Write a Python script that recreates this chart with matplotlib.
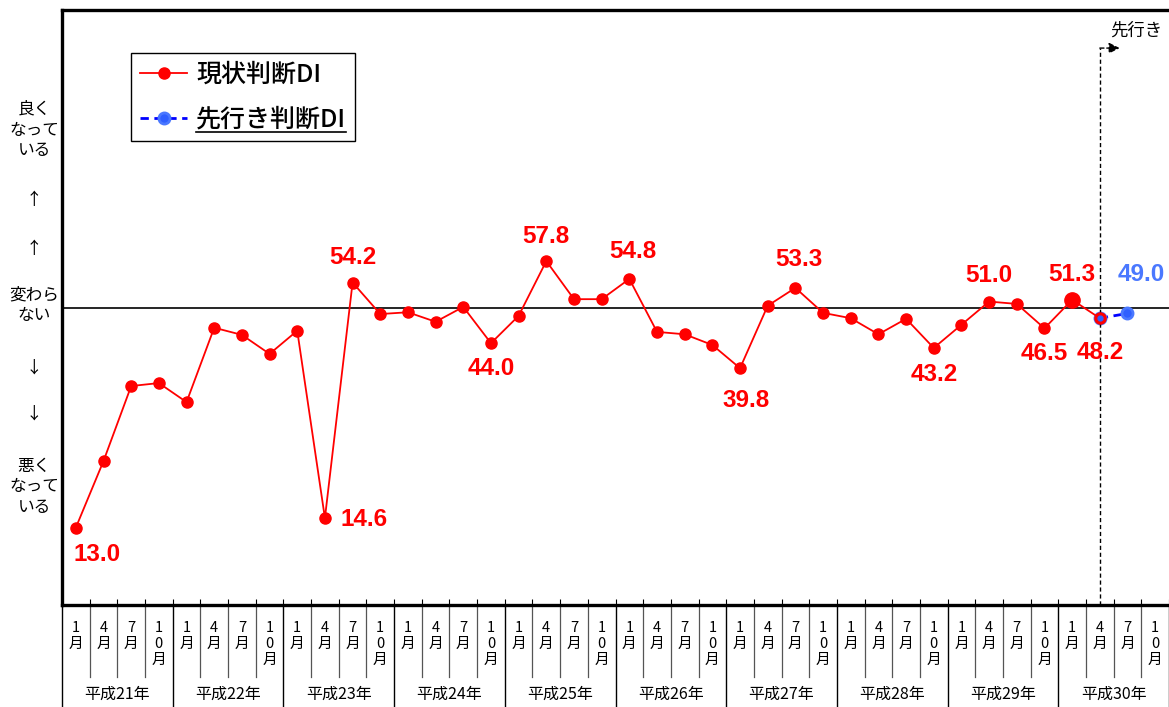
import numpy as np
import matplotlib
matplotlib.use("Agg")
import matplotlib.pyplot as plt
import matplotlib.transforms as mtransforms

plt.rcParams['font.family'] = ['Noto Sans CJK JP', 'DejaVu Sans']

# 平成21年1月 ～ 平成30年10月 (四半期)
years = ['平成21年', '平成22年', '平成23年', '平成24年', '平成25年',
         '平成26年', '平成27年', '平成28年', '平成29年', '平成30年']
months = ['1\n月', '4\n月', '7\n月', '1\n0\n月']

# 現状判断DI
current_di = [13.0, 24.2, 36.8, 37.3, 34.1, 46.6, 45.4, 42.2, 46.1, 14.6,
              54.2, 48.9, 49.2, 47.6, 50.1, 44.0, 48.6, 57.8, 51.4, 51.4,
              54.8, 45.9, 45.5, 43.7, 39.8, 50.3, 53.3, 49.1, 48.2, 45.5,
              48.1, 43.2, 47.1, 51.0, 50.6, 46.5, 51.3, 48.2]
# 先行き判断DI (平成30年4月, 7月)
outlook_di = [48.2, 49.0]
outlook_start = 37

# 数値ラベルを付ける点と位置 (ピクセル)
label_pos = {0: (21, -27), 9: (39, -1), 10: (0, 25), 15: (0, -25),
             17: (0, 25), 20: (4, 27), 24: (6, -32), 26: (4, 28),
             31: (0, -27), 33: (0, 26), 35: (0, -25), 36: (0, 25),
             37: (0, -34)}

RED = '#ff0000'
BLUE = '#0000ff'
BLUE_M = '#2f5fff'
BLUE_T = '#4a78ff'

W, H = 1169, 707
fig = plt.figure(figsize=(W / 100, H / 100), dpi=100)
L, R, T, B = 62, 1169, 10, 605
ax = fig.add_axes([L / W, (H - B) / H, (R - L) / W, (B - T) / H])

n = len(years) * len(months)
x = np.arange(n)
ax.set_xlim(-0.5, n - 0.5)
ax.set_ylim(0, 100)

ax.axhline(50, color='black', lw=1.2, zorder=1)

xo = x[outlook_start:outlook_start + len(outlook_di)]
l_out, = ax.plot(xo, outlook_di, color=BLUE, lw=2, ls=(0, (3, 2)),
                 marker='o', ms=8, mfc=BLUE_M, mec=BLUE_T, mew=2, zorder=2)
l_cur, = ax.plot(x[:len(current_di)], current_di, color=RED, lw=1.3,
                 marker='o', ms=8, mfc=RED, mec=RED, zorder=3)
ax.plot(x[36], current_di[36], 'o', color=RED, ms=11, zorder=3)
ax.plot(xo[0], outlook_di[0], 'o', ms=3.5, color=BLUE_M, zorder=5)

for i, (dx, dy) in label_pos.items():
    ax.annotate(f'{current_di[i]:.1f}', (x[i], current_di[i]),
                xytext=(dx, dy), textcoords='offset pixels',
                ha='center', va='center', color=RED, fontsize=17.5,
                fontweight='bold', family='Liberation Sans', zorder=6)
ax.annotate(f'{outlook_di[-1]:.1f}', (xo[-1], outlook_di[-1]),
            xytext=(14, 39), textcoords='offset pixels', ha='center',
            va='center', color=BLUE_T, fontsize=17.5, fontweight='bold',
            family='Liberation Sans', zorder=6)

# 先行きの区切り線と矢印
ax.plot([outlook_start, outlook_start], [0, 93.6], color='black', lw=1,
        ls=(0, (3, 2)), zorder=2)
ax.annotate('', xy=(outlook_start + 0.72, 93.6), xytext=(outlook_start, 93.6),
            arrowprops=dict(arrowstyle='-|>', color='black', lw=1,
                            ls=(0, (3, 2)), mutation_scale=16,
                            shrinkA=0, shrinkB=0))
ax.text(outlook_start + 0.38, 96.5, '先行き', fontsize=12.5, ha='left',
        va='center')

# 枠線
for s in ['top', 'left', 'bottom']:
    ax.spines[s].set_linewidth(2.4)
ax.spines['right'].set_visible(False)
ax.set_yticks([])
ax.set_xticks(np.arange(n + 1) - 0.5)
ax.tick_params(axis='x', direction='in', length=4, width=0.8,
               labelbottom=False)

# 縦軸の説明
for ty, s in [(130, '良く\nなって\nいる'), (201, '↑'), (249, '↑'),
              (305, '変わら\nない'), (368, '↓'), (414, '↓'),
              (487, '悪く\nなって\nいる')]:
    fig.text(34 / W, 1 - ty / H, s, ha='center', va='center',
             fontsize=12, linespacing=1.3)

# 下の表 (月・年)
tr = mtransforms.blended_transform_factory(ax.transData, ax.transAxes)
ph = B - T
for k in range(n + 1):
    xb = k - 0.5
    if k % 4 == 0:
        ax.plot([xb, xb], [0, -(H - B) / ph], color='black', lw=1,
                transform=tr, clip_on=False)
    else:
        ax.plot([xb, xb], [0, -(677 - B) / ph], color='#555555', lw=0.9,
                transform=tr, clip_on=False)
for k in range(n):
    ax.text(x[k], -(621 - B) / ph, months[k % 4], transform=tr, ha='center',
            va='top', fontsize=10.5, linespacing=1.18)
for j, yl in enumerate(years):
    ax.text(j * 4 + 1.5, -(694 - B) / ph, yl, transform=tr, ha='center',
            va='center', fontsize=11.5)

leg = ax.legend([l_cur, l_out], ['現状判断DI', '先行き判断DI'],
                loc='upper left',
                bbox_to_anchor=((131 - L) / (R - L), 1 - (53 - T) / ph),
                prop={'size': 18, 'weight': 'medium'}, frameon=True,
                fancybox=False, edgecolor='black', framealpha=1,
                borderpad=0.35, handlelength=1.9, handletextpad=0.35,
                labelspacing=0.75, borderaxespad=0)
leg.get_frame().set_linewidth(1)

# 先行き判断DIの下線
fig.canvas.draw()
bb = leg.get_texts()[1].get_window_extent()
fig.add_artist(plt.Line2D([bb.x0 / W, bb.x1 / W],
                          [(bb.y0 + 1) / H, (bb.y0 + 1) / H],
                          color='black', lw=1.2))

fig.savefig('out.png', dpi=100)
